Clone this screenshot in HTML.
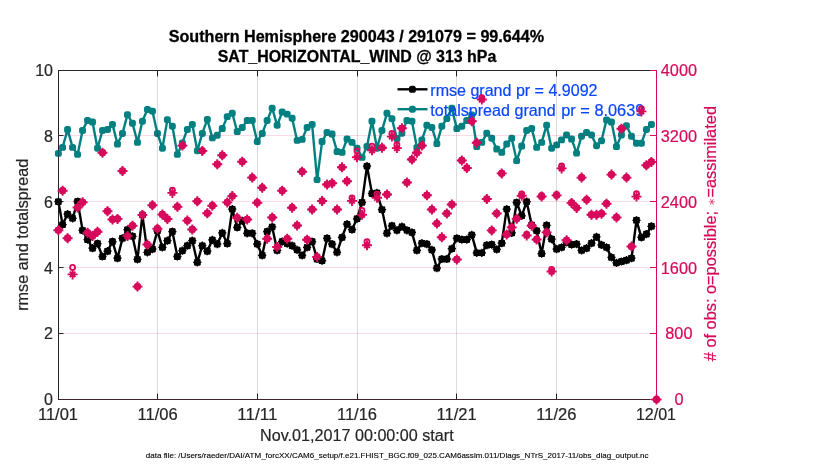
<!DOCTYPE html>
<html><head><meta charset="utf-8"><title>obs diag</title>
<style>
html,body{margin:0;padding:0;background:#fff;}
body{width:830px;height:470px;overflow:hidden;}
svg{display:block;}
text{font-family:"Liberation Sans",sans-serif;}
</style></head><body>
<svg width="830" height="470" viewBox="0 0 830 470">
<rect x="0" y="0" width="830" height="470" fill="#ffffff"/>
<g fill="#262626"><rect x="58" y="70" width="1" height="330"/><rect x="58" y="70" width="599" height="1"/><rect x="58" y="399" width="599" height="1"/><rect x="59" y="399" width="4.6" height="1"/><rect x="59" y="333" width="4.6" height="1"/><rect x="59" y="267" width="4.6" height="1"/><rect x="59" y="201" width="4.6" height="1"/><rect x="59" y="135" width="4.6" height="1"/><rect x="59" y="70" width="4.6" height="1"/><rect x="157" y="393.6" width="1" height="5.4"/><rect x="157" y="71" width="1" height="5.4"/><rect x="257" y="393.6" width="1" height="5.4"/><rect x="257" y="71" width="1" height="5.4"/><rect x="357" y="393.6" width="1" height="5.4"/><rect x="357" y="71" width="1" height="5.4"/><rect x="456" y="393.6" width="1" height="5.4"/><rect x="456" y="71" width="1" height="5.4"/><rect x="556" y="393.6" width="1" height="5.4"/><rect x="556" y="71" width="1" height="5.4"/></g>
<polyline points="58.4,201.7 62.6,224.6 67.6,214.1 72.6,218.3 77.6,201.5 82.6,230.4 87.6,239.6 92.5,248.2 97.5,243.6 102.5,256.5 107.5,251.2 112.5,241.6 117.5,258.2 122.5,238.3 127.5,229.6 132.5,236.3 137.5,259.4 142.4,215.0 147.4,252.4 152.4,249.1 157.4,230.8 162.4,247.4 167.4,240.7 172.4,231.6 177.4,256.5 182.4,250.7 187.3,245.7 192.3,240.7 197.3,262.4 202.3,245.7 207.3,251.2 212.3,239.9 217.3,244.1 222.3,232.9 227.3,243.6 232.3,209.1 237.2,227.4 242.2,220.8 247.2,233.3 252.2,233.3 257.2,244.1 262.2,255.4 267.2,231.6 272.2,226.9 277.2,250.4 282.2,241.6 287.2,243.6 292.1,245.7 297.1,249.9 302.1,255.4 307.1,247.4 312.1,241.6 317.1,259.0 322.1,260.7 327.1,238.3 332.1,244.1 337.1,252.4 342.0,237.4 347.0,224.1 352.0,229.6 357.0,218.8 362.0,202.4 367.0,166.1 372.0,193.6 377.0,192.9 382.0,209.6 387.0,233.3 391.9,225.8 396.9,230.3 401.9,226.6 406.9,230.3 411.9,232.4 416.9,250.4 421.9,243.2 426.9,244.1 431.9,249.9 436.9,268.2 441.8,259.0 446.8,259.0 451.8,248.7 456.8,238.3 461.8,239.6 466.8,239.6 471.8,234.9 476.8,252.9 481.8,252.9 486.8,245.2 491.7,244.6 496.7,249.4 501.7,243.2 506.7,209.1 511.7,232.9 516.7,202.5 521.7,215.8 526.7,201.7 531.7,224.9 536.6,230.8 541.6,253.6 546.6,225.3 551.6,239.1 556.6,249.1 561.6,247.4 566.6,242.4 571.6,244.6 576.6,244.1 581.6,250.4 586.6,248.2 591.5,243.2 596.5,236.9 601.5,244.9 606.5,247.4 611.5,257.4 616.5,262.9 621.5,261.5 626.5,260.2 631.5,258.2 636.5,220.3 641.4,237.4 646.4,234.1 651.4,226.3" fill="none" stroke="#000000" stroke-width="2.4" stroke-linejoin="round"/>
<g fill="#000000"><rect x="54.9" y="198.2" width="6.9" height="6.9" rx="2.6"/><rect x="59.1" y="221.2" width="6.9" height="6.9" rx="2.6"/><rect x="64.1" y="210.7" width="6.9" height="6.9" rx="2.6"/><rect x="69.1" y="214.8" width="6.9" height="6.9" rx="2.6"/><rect x="74.1" y="198.0" width="6.9" height="6.9" rx="2.6"/><rect x="79.1" y="227.0" width="6.9" height="6.9" rx="2.6"/><rect x="84.1" y="236.1" width="6.9" height="6.9" rx="2.6"/><rect x="89.1" y="244.8" width="6.9" height="6.9" rx="2.6"/><rect x="94.1" y="240.1" width="6.9" height="6.9" rx="2.6"/><rect x="99.1" y="253.1" width="6.9" height="6.9" rx="2.6"/><rect x="104.1" y="247.8" width="6.9" height="6.9" rx="2.6"/><rect x="109.0" y="238.1" width="6.9" height="6.9" rx="2.6"/><rect x="114.0" y="254.8" width="6.9" height="6.9" rx="2.6"/><rect x="119.0" y="234.8" width="6.9" height="6.9" rx="2.6"/><rect x="124.0" y="226.2" width="6.9" height="6.9" rx="2.6"/><rect x="129.0" y="232.8" width="6.9" height="6.9" rx="2.6"/><rect x="134.0" y="255.9" width="6.9" height="6.9" rx="2.6"/><rect x="139.0" y="211.5" width="6.9" height="6.9" rx="2.6"/><rect x="144.0" y="248.9" width="6.9" height="6.9" rx="2.6"/><rect x="149.0" y="245.6" width="6.9" height="6.9" rx="2.6"/><rect x="154.0" y="227.3" width="6.9" height="6.9" rx="2.6"/><rect x="159.0" y="243.9" width="6.9" height="6.9" rx="2.6"/><rect x="163.9" y="237.3" width="6.9" height="6.9" rx="2.6"/><rect x="168.9" y="228.1" width="6.9" height="6.9" rx="2.6"/><rect x="173.9" y="253.1" width="6.9" height="6.9" rx="2.6"/><rect x="178.9" y="247.3" width="6.9" height="6.9" rx="2.6"/><rect x="183.9" y="242.3" width="6.9" height="6.9" rx="2.6"/><rect x="188.9" y="237.3" width="6.9" height="6.9" rx="2.6"/><rect x="193.9" y="258.9" width="6.9" height="6.9" rx="2.6"/><rect x="198.9" y="242.3" width="6.9" height="6.9" rx="2.6"/><rect x="203.9" y="247.8" width="6.9" height="6.9" rx="2.6"/><rect x="208.9" y="236.5" width="6.9" height="6.9" rx="2.6"/><rect x="213.8" y="240.6" width="6.9" height="6.9" rx="2.6"/><rect x="218.8" y="229.5" width="6.9" height="6.9" rx="2.6"/><rect x="223.8" y="240.1" width="6.9" height="6.9" rx="2.6"/><rect x="228.8" y="205.7" width="6.9" height="6.9" rx="2.6"/><rect x="233.8" y="224.0" width="6.9" height="6.9" rx="2.6"/><rect x="238.8" y="217.3" width="6.9" height="6.9" rx="2.6"/><rect x="243.8" y="229.8" width="6.9" height="6.9" rx="2.6"/><rect x="248.8" y="229.8" width="6.9" height="6.9" rx="2.6"/><rect x="253.8" y="240.6" width="6.9" height="6.9" rx="2.6"/><rect x="258.8" y="251.9" width="6.9" height="6.9" rx="2.6"/><rect x="263.7" y="228.1" width="6.9" height="6.9" rx="2.6"/><rect x="268.7" y="223.5" width="6.9" height="6.9" rx="2.6"/><rect x="273.7" y="246.9" width="6.9" height="6.9" rx="2.6"/><rect x="278.7" y="238.1" width="6.9" height="6.9" rx="2.6"/><rect x="283.7" y="240.1" width="6.9" height="6.9" rx="2.6"/><rect x="288.7" y="242.3" width="6.9" height="6.9" rx="2.6"/><rect x="293.7" y="246.4" width="6.9" height="6.9" rx="2.6"/><rect x="298.7" y="251.9" width="6.9" height="6.9" rx="2.6"/><rect x="303.7" y="243.9" width="6.9" height="6.9" rx="2.6"/><rect x="308.7" y="238.1" width="6.9" height="6.9" rx="2.6"/><rect x="313.6" y="255.6" width="6.9" height="6.9" rx="2.6"/><rect x="318.6" y="257.3" width="6.9" height="6.9" rx="2.6"/><rect x="323.6" y="234.8" width="6.9" height="6.9" rx="2.6"/><rect x="328.6" y="240.6" width="6.9" height="6.9" rx="2.6"/><rect x="333.6" y="248.9" width="6.9" height="6.9" rx="2.6"/><rect x="338.6" y="234.0" width="6.9" height="6.9" rx="2.6"/><rect x="343.6" y="220.7" width="6.9" height="6.9" rx="2.6"/><rect x="348.6" y="226.2" width="6.9" height="6.9" rx="2.6"/><rect x="353.6" y="215.3" width="6.9" height="6.9" rx="2.6"/><rect x="358.6" y="198.9" width="6.9" height="6.9" rx="2.6"/><rect x="363.5" y="162.7" width="6.9" height="6.9" rx="2.6"/><rect x="368.5" y="190.1" width="6.9" height="6.9" rx="2.6"/><rect x="373.5" y="189.5" width="6.9" height="6.9" rx="2.6"/><rect x="378.5" y="206.2" width="6.9" height="6.9" rx="2.6"/><rect x="383.5" y="229.8" width="6.9" height="6.9" rx="2.6"/><rect x="388.5" y="222.3" width="6.9" height="6.9" rx="2.6"/><rect x="393.5" y="226.8" width="6.9" height="6.9" rx="2.6"/><rect x="398.5" y="223.2" width="6.9" height="6.9" rx="2.6"/><rect x="403.5" y="226.8" width="6.9" height="6.9" rx="2.6"/><rect x="408.5" y="229.0" width="6.9" height="6.9" rx="2.6"/><rect x="413.4" y="246.9" width="6.9" height="6.9" rx="2.6"/><rect x="418.4" y="239.8" width="6.9" height="6.9" rx="2.6"/><rect x="423.4" y="240.6" width="6.9" height="6.9" rx="2.6"/><rect x="428.4" y="246.4" width="6.9" height="6.9" rx="2.6"/><rect x="433.4" y="264.7" width="6.9" height="6.9" rx="2.6"/><rect x="438.4" y="255.6" width="6.9" height="6.9" rx="2.6"/><rect x="443.4" y="255.6" width="6.9" height="6.9" rx="2.6"/><rect x="448.4" y="245.3" width="6.9" height="6.9" rx="2.6"/><rect x="453.4" y="234.8" width="6.9" height="6.9" rx="2.6"/><rect x="458.4" y="236.1" width="6.9" height="6.9" rx="2.6"/><rect x="463.3" y="236.1" width="6.9" height="6.9" rx="2.6"/><rect x="468.3" y="231.5" width="6.9" height="6.9" rx="2.6"/><rect x="473.3" y="249.4" width="6.9" height="6.9" rx="2.6"/><rect x="478.3" y="249.4" width="6.9" height="6.9" rx="2.6"/><rect x="483.3" y="241.8" width="6.9" height="6.9" rx="2.6"/><rect x="488.3" y="241.1" width="6.9" height="6.9" rx="2.6"/><rect x="493.3" y="245.9" width="6.9" height="6.9" rx="2.6"/><rect x="498.3" y="239.8" width="6.9" height="6.9" rx="2.6"/><rect x="503.3" y="205.7" width="6.9" height="6.9" rx="2.6"/><rect x="508.3" y="229.5" width="6.9" height="6.9" rx="2.6"/><rect x="513.2" y="199.0" width="6.9" height="6.9" rx="2.6"/><rect x="518.2" y="212.3" width="6.9" height="6.9" rx="2.6"/><rect x="523.2" y="198.2" width="6.9" height="6.9" rx="2.6"/><rect x="528.2" y="221.5" width="6.9" height="6.9" rx="2.6"/><rect x="533.2" y="227.3" width="6.9" height="6.9" rx="2.6"/><rect x="538.2" y="250.1" width="6.9" height="6.9" rx="2.6"/><rect x="543.2" y="221.8" width="6.9" height="6.9" rx="2.6"/><rect x="548.2" y="235.6" width="6.9" height="6.9" rx="2.6"/><rect x="553.2" y="245.6" width="6.9" height="6.9" rx="2.6"/><rect x="558.1" y="243.9" width="6.9" height="6.9" rx="2.6"/><rect x="563.1" y="239.0" width="6.9" height="6.9" rx="2.6"/><rect x="568.1" y="241.1" width="6.9" height="6.9" rx="2.6"/><rect x="573.1" y="240.6" width="6.9" height="6.9" rx="2.6"/><rect x="578.1" y="246.9" width="6.9" height="6.9" rx="2.6"/><rect x="583.1" y="244.8" width="6.9" height="6.9" rx="2.6"/><rect x="588.1" y="239.8" width="6.9" height="6.9" rx="2.6"/><rect x="593.1" y="233.5" width="6.9" height="6.9" rx="2.6"/><rect x="598.1" y="241.5" width="6.9" height="6.9" rx="2.6"/><rect x="603.1" y="243.9" width="6.9" height="6.9" rx="2.6"/><rect x="608.0" y="253.9" width="6.9" height="6.9" rx="2.6"/><rect x="613.0" y="259.4" width="6.9" height="6.9" rx="2.6"/><rect x="618.0" y="258.1" width="6.9" height="6.9" rx="2.6"/><rect x="623.0" y="256.8" width="6.9" height="6.9" rx="2.6"/><rect x="628.0" y="254.8" width="6.9" height="6.9" rx="2.6"/><rect x="633.0" y="216.8" width="6.9" height="6.9" rx="2.6"/><rect x="638.0" y="234.0" width="6.9" height="6.9" rx="2.6"/><rect x="643.0" y="230.6" width="6.9" height="6.9" rx="2.6"/><rect x="648.0" y="222.8" width="6.9" height="6.9" rx="2.6"/></g>
<path d="M54.3,201.7h8.2M58.4,197.6v8.2M55.4,198.7l5.9,5.9M55.4,204.6l5.9,-5.9M58.5,224.6h8.2M62.6,220.5v8.2M59.6,221.7l5.9,5.9M59.6,227.6l5.9,-5.9M63.5,214.1h8.2M67.6,210.0v8.2M64.6,211.2l5.9,5.9M64.6,217.1l5.9,-5.9M68.5,218.3h8.2M72.6,214.2v8.2M69.6,215.3l5.9,5.9M69.6,221.2l5.9,-5.9M73.5,201.5h8.2M77.6,197.4v8.2M74.6,198.5l5.9,5.9M74.6,204.4l5.9,-5.9M78.5,230.4h8.2M82.6,226.3v8.2M79.6,227.5l5.9,5.9M79.6,233.4l5.9,-5.9M83.5,239.6h8.2M87.6,235.5v8.2M84.6,236.6l5.9,5.9M84.6,242.5l5.9,-5.9M88.4,248.2h8.2M92.5,244.1v8.2M89.6,245.3l5.9,5.9M89.6,251.2l5.9,-5.9M93.4,243.6h8.2M97.5,239.5v8.2M94.6,240.6l5.9,5.9M94.6,246.5l5.9,-5.9M98.4,256.5h8.2M102.5,252.4v8.2M99.6,253.6l5.9,5.9M99.6,259.5l5.9,-5.9M103.4,251.2h8.2M107.5,247.1v8.2M104.6,248.3l5.9,5.9M104.6,254.2l5.9,-5.9M108.4,241.6h8.2M112.5,237.5v8.2M109.5,238.6l5.9,5.9M109.5,244.5l5.9,-5.9M113.4,258.2h8.2M117.5,254.1v8.2M114.5,255.3l5.9,5.9M114.5,261.2l5.9,-5.9M118.4,238.3h8.2M122.5,234.2v8.2M119.5,235.3l5.9,5.9M119.5,241.2l5.9,-5.9M123.4,229.6h8.2M127.5,225.5v8.2M124.5,226.7l5.9,5.9M124.5,232.6l5.9,-5.9M128.4,236.3h8.2M132.5,232.2v8.2M129.5,233.3l5.9,5.9M129.5,239.2l5.9,-5.9M133.4,259.4h8.2M137.5,255.3v8.2M134.5,256.4l5.9,5.9M134.5,262.3l5.9,-5.9M138.3,215.0h8.2M142.4,210.9v8.2M139.5,212.0l5.9,5.9M139.5,217.9l5.9,-5.9M143.3,252.4h8.2M147.4,248.3v8.2M144.5,249.4l5.9,5.9M144.5,255.3l5.9,-5.9M148.3,249.1h8.2M152.4,245.0v8.2M149.5,246.1l5.9,5.9M149.5,252.0l5.9,-5.9M153.3,230.8h8.2M157.4,226.7v8.2M154.5,227.8l5.9,5.9M154.5,233.7l5.9,-5.9M158.3,247.4h8.2M162.4,243.3v8.2M159.5,244.4l5.9,5.9M159.5,250.3l5.9,-5.9M163.3,240.7h8.2M167.4,236.6v8.2M164.4,237.8l5.9,5.9M164.4,243.7l5.9,-5.9M168.3,231.6h8.2M172.4,227.5v8.2M169.4,228.6l5.9,5.9M169.4,234.5l5.9,-5.9M173.3,256.5h8.2M177.4,252.4v8.2M174.4,253.6l5.9,5.9M174.4,259.5l5.9,-5.9M178.3,250.7h8.2M182.4,246.6v8.2M179.4,247.8l5.9,5.9M179.4,253.7l5.9,-5.9M183.2,245.7h8.2M187.3,241.6v8.2M184.4,242.8l5.9,5.9M184.4,248.7l5.9,-5.9M188.2,240.7h8.2M192.3,236.6v8.2M189.4,237.8l5.9,5.9M189.4,243.7l5.9,-5.9M193.2,262.4h8.2M197.3,258.3v8.2M194.4,259.4l5.9,5.9M194.4,265.3l5.9,-5.9M198.2,245.7h8.2M202.3,241.6v8.2M199.4,242.8l5.9,5.9M199.4,248.7l5.9,-5.9M203.2,251.2h8.2M207.3,247.1v8.2M204.4,248.3l5.9,5.9M204.4,254.2l5.9,-5.9M208.2,239.9h8.2M212.3,235.8v8.2M209.4,237.0l5.9,5.9M209.4,242.9l5.9,-5.9M213.2,244.1h8.2M217.3,240.0v8.2M214.3,241.1l5.9,5.9M214.3,247.0l5.9,-5.9M218.2,232.9h8.2M222.3,228.8v8.2M219.3,230.0l5.9,5.9M219.3,235.9l5.9,-5.9M223.2,243.6h8.2M227.3,239.5v8.2M224.3,240.6l5.9,5.9M224.3,246.5l5.9,-5.9M228.2,209.1h8.2M232.3,205.0v8.2M229.3,206.2l5.9,5.9M229.3,212.1l5.9,-5.9M233.2,227.4h8.2M237.2,223.3v8.2M234.3,224.5l5.9,5.9M234.3,230.4l5.9,-5.9M238.1,220.8h8.2M242.2,216.7v8.2M239.3,217.8l5.9,5.9M239.3,223.7l5.9,-5.9M243.1,233.3h8.2M247.2,229.2v8.2M244.3,230.3l5.9,5.9M244.3,236.2l5.9,-5.9M248.1,233.3h8.2M252.2,229.2v8.2M249.3,230.3l5.9,5.9M249.3,236.2l5.9,-5.9M253.1,244.1h8.2M257.2,240.0v8.2M254.3,241.1l5.9,5.9M254.3,247.0l5.9,-5.9M258.1,255.4h8.2M262.2,251.3v8.2M259.3,252.4l5.9,5.9M259.3,258.3l5.9,-5.9M263.1,231.6h8.2M267.2,227.5v8.2M264.2,228.6l5.9,5.9M264.2,234.5l5.9,-5.9M268.1,226.9h8.2M272.2,222.8v8.2M269.2,224.0l5.9,5.9M269.2,229.9l5.9,-5.9M273.1,250.4h8.2M277.2,246.3v8.2M274.2,247.4l5.9,5.9M274.2,253.3l5.9,-5.9M278.1,241.6h8.2M282.2,237.5v8.2M279.2,238.6l5.9,5.9M279.2,244.5l5.9,-5.9M283.1,243.6h8.2M287.2,239.5v8.2M284.2,240.6l5.9,5.9M284.2,246.5l5.9,-5.9M288.0,245.7h8.2M292.1,241.6v8.2M289.2,242.8l5.9,5.9M289.2,248.7l5.9,-5.9M293.0,249.9h8.2M297.1,245.8v8.2M294.2,246.9l5.9,5.9M294.2,252.8l5.9,-5.9M298.0,255.4h8.2M302.1,251.3v8.2M299.2,252.4l5.9,5.9M299.2,258.3l5.9,-5.9M303.0,247.4h8.2M307.1,243.3v8.2M304.2,244.4l5.9,5.9M304.2,250.3l5.9,-5.9M308.0,241.6h8.2M312.1,237.5v8.2M309.2,238.6l5.9,5.9M309.2,244.5l5.9,-5.9M313.0,259.0h8.2M317.1,254.9v8.2M314.1,256.1l5.9,5.9M314.1,262.0l5.9,-5.9M318.0,260.7h8.2M322.1,256.6v8.2M319.1,257.8l5.9,5.9M319.1,263.7l5.9,-5.9M323.0,238.3h8.2M327.1,234.2v8.2M324.1,235.3l5.9,5.9M324.1,241.2l5.9,-5.9M328.0,244.1h8.2M332.1,240.0v8.2M329.1,241.1l5.9,5.9M329.1,247.0l5.9,-5.9M332.9,252.4h8.2M337.1,248.3v8.2M334.1,249.4l5.9,5.9M334.1,255.3l5.9,-5.9M337.9,237.4h8.2M342.0,233.3v8.2M339.1,234.5l5.9,5.9M339.1,240.4l5.9,-5.9M342.9,224.1h8.2M347.0,220.0v8.2M344.1,221.2l5.9,5.9M344.1,227.1l5.9,-5.9M347.9,229.6h8.2M352.0,225.5v8.2M349.1,226.7l5.9,5.9M349.1,232.6l5.9,-5.9M352.9,218.8h8.2M357.0,214.7v8.2M354.1,215.8l5.9,5.9M354.1,221.7l5.9,-5.9M357.9,202.4h8.2M362.0,198.3v8.2M359.1,199.4l5.9,5.9M359.1,205.3l5.9,-5.9M362.9,166.1h8.2M367.0,162.0v8.2M364.0,163.2l5.9,5.9M364.0,169.1l5.9,-5.9M367.9,193.6h8.2M372.0,189.5v8.2M369.0,190.6l5.9,5.9M369.0,196.5l5.9,-5.9M372.9,192.9h8.2M377.0,188.8v8.2M374.0,190.0l5.9,5.9M374.0,195.9l5.9,-5.9M377.9,209.6h8.2M382.0,205.5v8.2M379.0,206.7l5.9,5.9M379.0,212.6l5.9,-5.9M382.9,233.3h8.2M387.0,229.2v8.2M384.0,230.3l5.9,5.9M384.0,236.2l5.9,-5.9M387.8,225.8h8.2M391.9,221.7v8.2M389.0,222.8l5.9,5.9M389.0,228.7l5.9,-5.9M392.8,230.3h8.2M396.9,226.2v8.2M394.0,227.3l5.9,5.9M394.0,233.2l5.9,-5.9M397.8,226.6h8.2M401.9,222.5v8.2M399.0,223.7l5.9,5.9M399.0,229.6l5.9,-5.9M402.8,230.3h8.2M406.9,226.2v8.2M404.0,227.3l5.9,5.9M404.0,233.2l5.9,-5.9M407.8,232.4h8.2M411.9,228.3v8.2M409.0,229.5l5.9,5.9M409.0,235.4l5.9,-5.9M412.8,250.4h8.2M416.9,246.3v8.2M413.9,247.4l5.9,5.9M413.9,253.3l5.9,-5.9M417.8,243.2h8.2M421.9,239.1v8.2M418.9,240.3l5.9,5.9M418.9,246.2l5.9,-5.9M422.8,244.1h8.2M426.9,240.0v8.2M423.9,241.1l5.9,5.9M423.9,247.0l5.9,-5.9M427.8,249.9h8.2M431.9,245.8v8.2M428.9,246.9l5.9,5.9M428.9,252.8l5.9,-5.9M432.8,268.2h8.2M436.9,264.1v8.2M433.9,265.2l5.9,5.9M433.9,271.1l5.9,-5.9M437.7,259.0h8.2M441.8,254.9v8.2M438.9,256.1l5.9,5.9M438.9,262.0l5.9,-5.9M442.7,259.0h8.2M446.8,254.9v8.2M443.9,256.1l5.9,5.9M443.9,262.0l5.9,-5.9M447.7,248.7h8.2M451.8,244.6v8.2M448.9,245.8l5.9,5.9M448.9,251.7l5.9,-5.9M452.7,238.3h8.2M456.8,234.2v8.2M453.9,235.3l5.9,5.9M453.9,241.2l5.9,-5.9M457.7,239.6h8.2M461.8,235.5v8.2M458.9,236.6l5.9,5.9M458.9,242.5l5.9,-5.9M462.7,239.6h8.2M466.8,235.5v8.2M463.8,236.6l5.9,5.9M463.8,242.5l5.9,-5.9M467.7,234.9h8.2M471.8,230.8v8.2M468.8,232.0l5.9,5.9M468.8,237.9l5.9,-5.9M472.7,252.9h8.2M476.8,248.8v8.2M473.8,249.9l5.9,5.9M473.8,255.8l5.9,-5.9M477.7,252.9h8.2M481.8,248.8v8.2M478.8,249.9l5.9,5.9M478.8,255.8l5.9,-5.9M482.7,245.2h8.2M486.8,241.1v8.2M483.8,242.3l5.9,5.9M483.8,248.2l5.9,-5.9M487.6,244.6h8.2M491.7,240.5v8.2M488.8,241.6l5.9,5.9M488.8,247.5l5.9,-5.9M492.6,249.4h8.2M496.7,245.3v8.2M493.8,246.4l5.9,5.9M493.8,252.3l5.9,-5.9M497.6,243.2h8.2M501.7,239.1v8.2M498.8,240.3l5.9,5.9M498.8,246.2l5.9,-5.9M502.6,209.1h8.2M506.7,205.0v8.2M503.8,206.2l5.9,5.9M503.8,212.1l5.9,-5.9M507.6,232.9h8.2M511.7,228.8v8.2M508.8,230.0l5.9,5.9M508.8,235.9l5.9,-5.9M512.6,202.5h8.2M516.7,198.4v8.2M513.7,199.5l5.9,5.9M513.7,205.4l5.9,-5.9M517.6,215.8h8.2M521.7,211.7v8.2M518.7,212.8l5.9,5.9M518.7,218.7l5.9,-5.9M522.6,201.7h8.2M526.7,197.6v8.2M523.7,198.7l5.9,5.9M523.7,204.6l5.9,-5.9M527.6,224.9h8.2M531.7,220.8v8.2M528.7,222.0l5.9,5.9M528.7,227.9l5.9,-5.9M532.5,230.8h8.2M536.6,226.7v8.2M533.7,227.8l5.9,5.9M533.7,233.7l5.9,-5.9M537.5,253.6h8.2M541.6,249.5v8.2M538.7,250.6l5.9,5.9M538.7,256.5l5.9,-5.9M542.5,225.3h8.2M546.6,221.2v8.2M543.7,222.3l5.9,5.9M543.7,228.2l5.9,-5.9M547.5,239.1h8.2M551.6,235.0v8.2M548.7,236.1l5.9,5.9M548.7,242.0l5.9,-5.9M552.5,249.1h8.2M556.6,245.0v8.2M553.7,246.1l5.9,5.9M553.7,252.0l5.9,-5.9M557.5,247.4h8.2M561.6,243.3v8.2M558.6,244.4l5.9,5.9M558.6,250.3l5.9,-5.9M562.5,242.4h8.2M566.6,238.3v8.2M563.6,239.5l5.9,5.9M563.6,245.4l5.9,-5.9M567.5,244.6h8.2M571.6,240.5v8.2M568.6,241.6l5.9,5.9M568.6,247.5l5.9,-5.9M572.5,244.1h8.2M576.6,240.0v8.2M573.6,241.1l5.9,5.9M573.6,247.0l5.9,-5.9M577.5,250.4h8.2M581.6,246.3v8.2M578.6,247.4l5.9,5.9M578.6,253.3l5.9,-5.9M582.5,248.2h8.2M586.6,244.1v8.2M583.6,245.3l5.9,5.9M583.6,251.2l5.9,-5.9M587.4,243.2h8.2M591.5,239.1v8.2M588.6,240.3l5.9,5.9M588.6,246.2l5.9,-5.9M592.4,236.9h8.2M596.5,232.8v8.2M593.6,234.0l5.9,5.9M593.6,239.9l5.9,-5.9M597.4,244.9h8.2M601.5,240.8v8.2M598.6,242.0l5.9,5.9M598.6,247.9l5.9,-5.9M602.4,247.4h8.2M606.5,243.3v8.2M603.6,244.4l5.9,5.9M603.6,250.3l5.9,-5.9M607.4,257.4h8.2M611.5,253.3v8.2M608.5,254.4l5.9,5.9M608.5,260.3l5.9,-5.9M612.4,262.9h8.2M616.5,258.8v8.2M613.5,259.9l5.9,5.9M613.5,265.8l5.9,-5.9M617.4,261.5h8.2M621.5,257.4v8.2M618.5,258.6l5.9,5.9M618.5,264.5l5.9,-5.9M622.4,260.2h8.2M626.5,256.1v8.2M623.5,257.3l5.9,5.9M623.5,263.2l5.9,-5.9M627.4,258.2h8.2M631.5,254.1v8.2M628.5,255.3l5.9,5.9M628.5,261.2l5.9,-5.9M632.4,220.3h8.2M636.5,216.2v8.2M633.5,217.3l5.9,5.9M633.5,223.2l5.9,-5.9M637.3,237.4h8.2M641.4,233.3v8.2M638.5,234.5l5.9,5.9M638.5,240.4l5.9,-5.9M642.3,234.1h8.2M646.4,230.0v8.2M643.5,231.1l5.9,5.9M643.5,237.0l5.9,-5.9M647.3,226.3h8.2M651.4,222.2v8.2M648.5,223.3l5.9,5.9M648.5,229.2l5.9,-5.9" stroke="#000" stroke-width="1.3" fill="none"/>
<polyline points="58.4,153.4 62.6,147.4 67.6,129.6 72.6,147.4 77.6,154.4 82.6,130.4 87.6,120.4 92.5,122.1 97.5,148.2 102.5,130.4 107.5,129.4 112.5,124.4 117.5,144.1 122.5,133.4 127.5,114.6 132.5,123.3 137.5,142.4 142.4,121.3 147.4,109.5 152.4,111.1 157.4,133.4 162.4,148.2 167.4,119.6 172.4,126.3 177.4,154.4 182.4,142.9 187.3,129.4 192.3,124.4 197.3,150.7 202.3,133.4 207.3,119.4 212.3,137.9 217.3,135.2 222.3,128.6 227.3,116.6 232.3,113.3 237.2,131.6 242.2,127.4 247.2,120.4 252.2,120.4 257.2,141.6 262.2,133.4 267.2,120.4 272.2,108.3 277.2,125.3 282.2,112.0 287.2,114.1 292.1,118.3 297.1,140.4 302.1,139.4 307.1,127.4 312.1,124.4 317.1,179.6 322.1,141.6 327.1,132.4 332.1,134.1 337.1,151.5 342.0,152.4 347.0,139.1 352.0,142.4 357.0,148.2 362.0,157.4 367.0,146.5 372.0,121.1 377.0,148.2 382.0,130.4 387.0,113.3 391.9,118.6 396.9,138.6 401.9,133.2 406.9,120.4 411.9,121.1 416.9,147.4 421.9,139.9 426.9,125.3 431.9,127.4 436.9,143.6 441.8,126.3 446.8,118.6 451.8,108.3 456.8,128.6 461.8,126.3 466.8,120.4 471.8,114.9 476.8,146.5 481.8,142.4 486.8,133.2 491.7,138.2 496.7,149.0 501.7,152.4 506.7,144.1 511.7,138.2 516.7,160.7 521.7,146.0 526.7,130.4 531.7,128.6 536.6,147.4 541.6,142.4 546.6,125.3 551.6,148.2 556.6,144.9 561.6,139.9 566.6,134.9 571.6,139.1 576.6,153.2 581.6,136.2 586.6,132.4 591.5,134.9 596.5,145.7 601.5,140.7 606.5,119.9 611.5,122.1 616.5,146.5 621.5,134.9 626.5,125.8 631.5,136.2 636.5,143.2 641.4,143.2 646.4,129.4 651.4,124.4" fill="none" stroke="#008080" stroke-width="2.4" stroke-linejoin="round"/>
<g fill="#008080"><rect x="54.9" y="149.9" width="6.9" height="6.9" rx="2.6"/><rect x="59.1" y="143.9" width="6.9" height="6.9" rx="2.6"/><rect x="64.1" y="126.1" width="6.9" height="6.9" rx="2.6"/><rect x="69.1" y="143.9" width="6.9" height="6.9" rx="2.6"/><rect x="74.1" y="150.9" width="6.9" height="6.9" rx="2.6"/><rect x="79.1" y="127.0" width="6.9" height="6.9" rx="2.6"/><rect x="84.1" y="117.0" width="6.9" height="6.9" rx="2.6"/><rect x="89.1" y="118.6" width="6.9" height="6.9" rx="2.6"/><rect x="94.1" y="144.8" width="6.9" height="6.9" rx="2.6"/><rect x="99.1" y="127.0" width="6.9" height="6.9" rx="2.6"/><rect x="104.1" y="126.0" width="6.9" height="6.9" rx="2.6"/><rect x="109.0" y="121.0" width="6.9" height="6.9" rx="2.6"/><rect x="114.0" y="140.6" width="6.9" height="6.9" rx="2.6"/><rect x="119.0" y="130.0" width="6.9" height="6.9" rx="2.6"/><rect x="124.0" y="111.2" width="6.9" height="6.9" rx="2.6"/><rect x="129.0" y="119.8" width="6.9" height="6.9" rx="2.6"/><rect x="134.0" y="138.9" width="6.9" height="6.9" rx="2.6"/><rect x="139.0" y="117.8" width="6.9" height="6.9" rx="2.6"/><rect x="144.0" y="106.0" width="6.9" height="6.9" rx="2.6"/><rect x="149.0" y="107.7" width="6.9" height="6.9" rx="2.6"/><rect x="154.0" y="130.0" width="6.9" height="6.9" rx="2.6"/><rect x="159.0" y="144.8" width="6.9" height="6.9" rx="2.6"/><rect x="163.9" y="116.2" width="6.9" height="6.9" rx="2.6"/><rect x="168.9" y="122.8" width="6.9" height="6.9" rx="2.6"/><rect x="173.9" y="150.9" width="6.9" height="6.9" rx="2.6"/><rect x="178.9" y="139.4" width="6.9" height="6.9" rx="2.6"/><rect x="183.9" y="126.0" width="6.9" height="6.9" rx="2.6"/><rect x="188.9" y="121.0" width="6.9" height="6.9" rx="2.6"/><rect x="193.9" y="147.3" width="6.9" height="6.9" rx="2.6"/><rect x="198.9" y="130.0" width="6.9" height="6.9" rx="2.6"/><rect x="203.9" y="116.0" width="6.9" height="6.9" rx="2.6"/><rect x="208.9" y="134.4" width="6.9" height="6.9" rx="2.6"/><rect x="213.8" y="131.8" width="6.9" height="6.9" rx="2.6"/><rect x="218.8" y="125.1" width="6.9" height="6.9" rx="2.6"/><rect x="223.8" y="113.2" width="6.9" height="6.9" rx="2.6"/><rect x="228.8" y="109.8" width="6.9" height="6.9" rx="2.6"/><rect x="233.8" y="128.1" width="6.9" height="6.9" rx="2.6"/><rect x="238.8" y="124.0" width="6.9" height="6.9" rx="2.6"/><rect x="243.8" y="117.0" width="6.9" height="6.9" rx="2.6"/><rect x="248.8" y="117.0" width="6.9" height="6.9" rx="2.6"/><rect x="253.8" y="138.1" width="6.9" height="6.9" rx="2.6"/><rect x="258.8" y="130.0" width="6.9" height="6.9" rx="2.6"/><rect x="263.7" y="117.0" width="6.9" height="6.9" rx="2.6"/><rect x="268.7" y="104.8" width="6.9" height="6.9" rx="2.6"/><rect x="273.7" y="121.8" width="6.9" height="6.9" rx="2.6"/><rect x="278.7" y="108.5" width="6.9" height="6.9" rx="2.6"/><rect x="283.7" y="110.7" width="6.9" height="6.9" rx="2.6"/><rect x="288.7" y="114.8" width="6.9" height="6.9" rx="2.6"/><rect x="293.7" y="136.9" width="6.9" height="6.9" rx="2.6"/><rect x="298.7" y="135.9" width="6.9" height="6.9" rx="2.6"/><rect x="303.7" y="124.0" width="6.9" height="6.9" rx="2.6"/><rect x="308.7" y="121.0" width="6.9" height="6.9" rx="2.6"/><rect x="313.6" y="176.2" width="6.9" height="6.9" rx="2.6"/><rect x="318.6" y="138.1" width="6.9" height="6.9" rx="2.6"/><rect x="323.6" y="129.0" width="6.9" height="6.9" rx="2.6"/><rect x="328.6" y="130.6" width="6.9" height="6.9" rx="2.6"/><rect x="333.6" y="148.1" width="6.9" height="6.9" rx="2.6"/><rect x="338.6" y="148.9" width="6.9" height="6.9" rx="2.6"/><rect x="343.6" y="135.6" width="6.9" height="6.9" rx="2.6"/><rect x="348.6" y="138.9" width="6.9" height="6.9" rx="2.6"/><rect x="353.6" y="144.8" width="6.9" height="6.9" rx="2.6"/><rect x="358.6" y="153.9" width="6.9" height="6.9" rx="2.6"/><rect x="363.5" y="143.1" width="6.9" height="6.9" rx="2.6"/><rect x="368.5" y="117.7" width="6.9" height="6.9" rx="2.6"/><rect x="373.5" y="144.8" width="6.9" height="6.9" rx="2.6"/><rect x="378.5" y="127.0" width="6.9" height="6.9" rx="2.6"/><rect x="383.5" y="109.8" width="6.9" height="6.9" rx="2.6"/><rect x="388.5" y="115.2" width="6.9" height="6.9" rx="2.6"/><rect x="393.5" y="135.1" width="6.9" height="6.9" rx="2.6"/><rect x="398.5" y="129.8" width="6.9" height="6.9" rx="2.6"/><rect x="403.5" y="117.0" width="6.9" height="6.9" rx="2.6"/><rect x="408.5" y="117.7" width="6.9" height="6.9" rx="2.6"/><rect x="413.4" y="143.9" width="6.9" height="6.9" rx="2.6"/><rect x="418.4" y="136.4" width="6.9" height="6.9" rx="2.6"/><rect x="423.4" y="121.8" width="6.9" height="6.9" rx="2.6"/><rect x="428.4" y="124.0" width="6.9" height="6.9" rx="2.6"/><rect x="433.4" y="140.1" width="6.9" height="6.9" rx="2.6"/><rect x="438.4" y="122.8" width="6.9" height="6.9" rx="2.6"/><rect x="443.4" y="115.2" width="6.9" height="6.9" rx="2.6"/><rect x="448.4" y="104.8" width="6.9" height="6.9" rx="2.6"/><rect x="453.4" y="125.1" width="6.9" height="6.9" rx="2.6"/><rect x="458.4" y="122.8" width="6.9" height="6.9" rx="2.6"/><rect x="463.3" y="117.0" width="6.9" height="6.9" rx="2.6"/><rect x="468.3" y="111.5" width="6.9" height="6.9" rx="2.6"/><rect x="473.3" y="143.1" width="6.9" height="6.9" rx="2.6"/><rect x="478.3" y="138.9" width="6.9" height="6.9" rx="2.6"/><rect x="483.3" y="129.8" width="6.9" height="6.9" rx="2.6"/><rect x="488.3" y="134.8" width="6.9" height="6.9" rx="2.6"/><rect x="493.3" y="145.6" width="6.9" height="6.9" rx="2.6"/><rect x="498.3" y="148.9" width="6.9" height="6.9" rx="2.6"/><rect x="503.3" y="140.6" width="6.9" height="6.9" rx="2.6"/><rect x="508.3" y="134.8" width="6.9" height="6.9" rx="2.6"/><rect x="513.2" y="157.2" width="6.9" height="6.9" rx="2.6"/><rect x="518.2" y="142.6" width="6.9" height="6.9" rx="2.6"/><rect x="523.2" y="127.0" width="6.9" height="6.9" rx="2.6"/><rect x="528.2" y="125.1" width="6.9" height="6.9" rx="2.6"/><rect x="533.2" y="143.9" width="6.9" height="6.9" rx="2.6"/><rect x="538.2" y="138.9" width="6.9" height="6.9" rx="2.6"/><rect x="543.2" y="121.8" width="6.9" height="6.9" rx="2.6"/><rect x="548.2" y="144.8" width="6.9" height="6.9" rx="2.6"/><rect x="553.2" y="141.4" width="6.9" height="6.9" rx="2.6"/><rect x="558.1" y="136.4" width="6.9" height="6.9" rx="2.6"/><rect x="563.1" y="131.5" width="6.9" height="6.9" rx="2.6"/><rect x="568.1" y="135.6" width="6.9" height="6.9" rx="2.6"/><rect x="573.1" y="149.7" width="6.9" height="6.9" rx="2.6"/><rect x="578.1" y="132.8" width="6.9" height="6.9" rx="2.6"/><rect x="583.1" y="129.0" width="6.9" height="6.9" rx="2.6"/><rect x="588.1" y="131.5" width="6.9" height="6.9" rx="2.6"/><rect x="593.1" y="142.3" width="6.9" height="6.9" rx="2.6"/><rect x="598.1" y="137.3" width="6.9" height="6.9" rx="2.6"/><rect x="603.1" y="116.5" width="6.9" height="6.9" rx="2.6"/><rect x="608.0" y="118.6" width="6.9" height="6.9" rx="2.6"/><rect x="613.0" y="143.1" width="6.9" height="6.9" rx="2.6"/><rect x="618.0" y="131.5" width="6.9" height="6.9" rx="2.6"/><rect x="623.0" y="122.3" width="6.9" height="6.9" rx="2.6"/><rect x="628.0" y="132.8" width="6.9" height="6.9" rx="2.6"/><rect x="633.0" y="139.8" width="6.9" height="6.9" rx="2.6"/><rect x="638.0" y="139.8" width="6.9" height="6.9" rx="2.6"/><rect x="643.0" y="126.0" width="6.9" height="6.9" rx="2.6"/><rect x="648.0" y="121.0" width="6.9" height="6.9" rx="2.6"/></g>
<g>
<line x1="397.5" y1="89.3" x2="427.5" y2="89.3" stroke="#000" stroke-width="2.4"/>
<rect x="408.95" y="85.85" width="6.9" height="6.9" rx="2.6" fill="#000"/>
<line x1="397.5" y1="109.2" x2="427.5" y2="109.2" stroke="#008080" stroke-width="2.4"/>
<rect x="408.95" y="105.75" width="6.9" height="6.9" rx="2.6" fill="#008080"/>
<text x="430.3" y="95.7" font-size="16" fill="#0a46ff" stroke="#0a46ff" stroke-width="0.2" textLength="167.2" lengthAdjust="spacingAndGlyphs">rmse grand pr = 4.9092</text>
<text y="115.6" font-size="16" fill="#0a46ff" stroke="#0a46ff" stroke-width="0.2"><tspan x="430.3" textLength="125.3" lengthAdjust="spacingAndGlyphs">totalspread grand</tspan> <tspan x="561.3" textLength="83" lengthAdjust="spacingAndGlyphs">pr = 8.0639</tspan></text>
</g>
<g fill="#262626" fill-opacity="0.45"><rect x="58" y="70" width="1" height="330"/><rect x="58" y="70" width="599" height="1"/><rect x="58" y="399" width="599" height="1"/></g>
<g fill="#000" fill-opacity="0.14"><rect x="157" y="71" width="1" height="328"/><rect x="257" y="71" width="1" height="328"/><rect x="357" y="71" width="1" height="328"/><rect x="456" y="71" width="1" height="328"/><rect x="556" y="71" width="1" height="328"/></g>
<g fill="#d7095a" fill-opacity="0.15"><rect x="59" y="333" width="597" height="1"/><rect x="59" y="267" width="597" height="1"/><rect x="59" y="201" width="597" height="1"/><rect x="59" y="135" width="597" height="1"/></g>
<g fill="#d7095a"><rect x="656" y="70" width="1" height="330"/><rect x="650" y="399" width="6" height="1"/><rect x="650" y="333" width="6" height="1"/><rect x="650" y="267" width="6" height="1"/><rect x="650" y="201" width="6" height="1"/><rect x="650" y="135" width="6" height="1"/><rect x="650" y="70" width="6" height="1"/></g>
<rect x="59" y="399" width="597" height="1" fill="#d7095a" fill-opacity="0.17"/>
<g stroke="#d7095a" stroke-width="1.8" fill="none"><circle cx="58.4" cy="229.9" r="2.5"/><circle cx="62.6" cy="190.4" r="2.5"/><circle cx="67.6" cy="237.9" r="2.5"/><circle cx="72.6" cy="267.4" r="2.5"/><circle cx="77.6" cy="207.2" r="2.5"/><circle cx="82.6" cy="202.1" r="2.5"/><circle cx="87.6" cy="232.6" r="2.5"/><circle cx="92.5" cy="235.8" r="2.5"/><circle cx="97.5" cy="231.6" r="2.5"/><circle cx="102.5" cy="152.4" r="2.5"/><circle cx="107.5" cy="210.9" r="2.5"/><circle cx="112.5" cy="219.2" r="2.5"/><circle cx="117.5" cy="218.7" r="2.5"/><circle cx="122.5" cy="170.8" r="2.5"/><circle cx="127.5" cy="235.8" r="2.5"/><circle cx="132.5" cy="225.4" r="2.5"/><circle cx="137.5" cy="286.4" r="2.5"/><circle cx="142.4" cy="214.7" r="2.5"/><circle cx="147.4" cy="244.5" r="2.5"/><circle cx="152.4" cy="204.9" r="2.5"/><circle cx="157.4" cy="228.4" r="2.5"/><circle cx="162.4" cy="214.2" r="2.5"/><circle cx="167.4" cy="218.8" r="2.5"/><circle cx="172.4" cy="190.1" r="2.5"/><circle cx="177.4" cy="206.6" r="2.5"/><circle cx="182.4" cy="145.3" r="2.5"/><circle cx="187.3" cy="220.3" r="2.5"/><circle cx="192.3" cy="229.2" r="2.5"/><circle cx="197.3" cy="201.1" r="2.5"/><circle cx="202.3" cy="150.7" r="2.5"/><circle cx="207.3" cy="213.1" r="2.5"/><circle cx="212.3" cy="205.4" r="2.5"/><circle cx="217.3" cy="164.1" r="2.5"/><circle cx="222.3" cy="155.1" r="2.5"/><circle cx="227.3" cy="202.2" r="2.5"/><circle cx="232.3" cy="195.8" r="2.5"/><circle cx="237.2" cy="217.6" r="2.5"/><circle cx="242.2" cy="161.4" r="2.5"/><circle cx="247.2" cy="219.2" r="2.5"/><circle cx="252.2" cy="177.3" r="2.5"/><circle cx="257.2" cy="202.4" r="2.5"/><circle cx="262.2" cy="187.6" r="2.5"/><circle cx="267.2" cy="238.4" r="2.5"/><circle cx="272.2" cy="217.2" r="2.5"/><circle cx="277.2" cy="246.8" r="2.5"/><circle cx="282.2" cy="190.4" r="2.5"/><circle cx="287.2" cy="238.4" r="2.5"/><circle cx="292.1" cy="207.4" r="2.5"/><circle cx="297.1" cy="225.2" r="2.5"/><circle cx="302.1" cy="171.4" r="2.5"/><circle cx="307.1" cy="239.4" r="2.5"/><circle cx="312.1" cy="209.2" r="2.5"/><circle cx="317.1" cy="256.6" r="2.5"/><circle cx="322.1" cy="200.8" r="2.5"/><circle cx="327.1" cy="184.2" r="2.5"/><circle cx="332.1" cy="182.9" r="2.5"/><circle cx="337.1" cy="209.2" r="2.5"/><circle cx="342.0" cy="167.3" r="2.5"/><circle cx="347.0" cy="180.9" r="2.5"/><circle cx="352.0" cy="197.8" r="2.5"/><circle cx="357.0" cy="151.0" r="2.5"/><circle cx="362.0" cy="210.4" r="2.5"/><circle cx="367.0" cy="241.7" r="2.5"/><circle cx="372.0" cy="146.2" r="2.5"/><circle cx="377.0" cy="194.2" r="2.5"/><circle cx="382.0" cy="147.7" r="2.5"/><circle cx="387.0" cy="194.2" r="2.5"/><circle cx="391.9" cy="133.3" r="2.5"/><circle cx="396.9" cy="144.7" r="2.5"/><circle cx="401.9" cy="128.1" r="2.5"/><circle cx="406.9" cy="182.2" r="2.5"/><circle cx="411.9" cy="159.2" r="2.5"/><circle cx="416.9" cy="152.4" r="2.5"/><circle cx="421.9" cy="145.3" r="2.5"/><circle cx="426.9" cy="195.1" r="2.5"/><circle cx="431.9" cy="209.2" r="2.5"/><circle cx="436.9" cy="223.3" r="2.5"/><circle cx="441.8" cy="237.1" r="2.5"/><circle cx="446.8" cy="213.2" r="2.5"/><circle cx="451.8" cy="204.2" r="2.5"/><circle cx="456.8" cy="259.2" r="2.5"/><circle cx="461.8" cy="160.2" r="2.5"/><circle cx="466.8" cy="168.0" r="2.5"/><circle cx="471.8" cy="121.0" r="2.5"/><circle cx="476.8" cy="142.6" r="2.5"/><circle cx="481.8" cy="97.7" r="2.5"/><circle cx="486.8" cy="198.8" r="2.5"/><circle cx="491.7" cy="230.2" r="2.5"/><circle cx="496.7" cy="213.2" r="2.5"/><circle cx="501.7" cy="173.2" r="2.5"/><circle cx="506.7" cy="234.2" r="2.5"/><circle cx="511.7" cy="227.2" r="2.5"/><circle cx="516.7" cy="218.6" r="2.5"/><circle cx="521.7" cy="193.9" r="2.5"/><circle cx="526.7" cy="234.2" r="2.5"/><circle cx="531.7" cy="225.4" r="2.5"/><circle cx="536.6" cy="239.2" r="2.5"/><circle cx="541.6" cy="195.4" r="2.5"/><circle cx="546.6" cy="232.2" r="2.5"/><circle cx="551.6" cy="269.5" r="2.5"/><circle cx="556.6" cy="194.3" r="2.5"/><circle cx="561.6" cy="166.0" r="2.5"/><circle cx="566.6" cy="240.1" r="2.5"/><circle cx="571.6" cy="202.7" r="2.5"/><circle cx="576.6" cy="207.7" r="2.5"/><circle cx="581.6" cy="177.3" r="2.5"/><circle cx="586.6" cy="199.6" r="2.5"/><circle cx="591.5" cy="214.6" r="2.5"/><circle cx="596.5" cy="214.6" r="2.5"/><circle cx="601.5" cy="213.4" r="2.5"/><circle cx="606.5" cy="203.4" r="2.5"/><circle cx="611.5" cy="174.3" r="2.5"/><circle cx="616.5" cy="217.2" r="2.5"/><circle cx="621.5" cy="128.4" r="2.5"/><circle cx="626.5" cy="177.3" r="2.5"/><circle cx="631.5" cy="246.5" r="2.5"/><circle cx="636.5" cy="193.7" r="2.5"/><circle cx="641.4" cy="108.6" r="2.5"/><circle cx="646.4" cy="165.1" r="2.5"/><circle cx="651.4" cy="161.7" r="2.5"/><circle cx="656.5" cy="399.5" r="2.5"/></g>
<path d="M53.8,230.2l4.6,-4.6l4.6,4.6l-4.6,4.6zM58.0,190.7l4.6,-4.6l4.6,4.6l-4.6,4.6zM63.0,238.2l4.6,-4.6l4.6,4.6l-4.6,4.6zM69.3,274.4l3.3,-3.3l3.3,3.3l-3.3,3.3zM73.0,207.5l4.6,-4.6l4.6,4.6l-4.6,4.6zM78.0,202.3l4.6,-4.6l4.6,4.6l-4.6,4.6zM83.0,232.8l4.6,-4.6l4.6,4.6l-4.6,4.6zM87.9,236.1l4.6,-4.6l4.6,4.6l-4.6,4.6zM92.9,231.8l4.6,-4.6l4.6,4.6l-4.6,4.6zM97.9,152.7l4.6,-4.6l4.6,4.6l-4.6,4.6zM102.9,211.2l4.6,-4.6l4.6,4.6l-4.6,4.6zM107.9,219.5l4.6,-4.6l4.6,4.6l-4.6,4.6zM112.9,218.9l4.6,-4.6l4.6,4.6l-4.6,4.6zM117.9,171.0l4.6,-4.6l4.6,4.6l-4.6,4.6zM122.9,236.1l4.6,-4.6l4.6,4.6l-4.6,4.6zM127.9,225.7l4.6,-4.6l4.6,4.6l-4.6,4.6zM132.9,286.6l4.6,-4.6l4.6,4.6l-4.6,4.6zM137.8,214.9l4.6,-4.6l4.6,4.6l-4.6,4.6zM142.8,244.5l4.6,-4.6l4.6,4.6l-4.6,4.6zM147.8,205.2l4.6,-4.6l4.6,4.6l-4.6,4.6zM152.8,228.7l4.6,-4.6l4.6,4.6l-4.6,4.6zM157.8,214.5l4.6,-4.6l4.6,4.6l-4.6,4.6zM162.8,219.0l4.6,-4.6l4.6,4.6l-4.6,4.6zM169.1,192.9l3.3,-3.3l3.3,3.3l-3.3,3.3zM172.8,206.8l4.6,-4.6l4.6,4.6l-4.6,4.6zM177.8,145.6l4.6,-4.6l4.6,4.6l-4.6,4.6zM182.8,220.6l4.6,-4.6l4.6,4.6l-4.6,4.6zM187.7,229.5l4.6,-4.6l4.6,4.6l-4.6,4.6zM192.7,201.3l4.6,-4.6l4.6,4.6l-4.6,4.6zM197.7,150.9l4.6,-4.6l4.6,4.6l-4.6,4.6zM202.7,213.3l4.6,-4.6l4.6,4.6l-4.6,4.6zM207.7,205.7l4.6,-4.6l4.6,4.6l-4.6,4.6zM212.7,164.3l4.6,-4.6l4.6,4.6l-4.6,4.6zM217.7,155.3l4.6,-4.6l4.6,4.6l-4.6,4.6zM222.7,202.4l4.6,-4.6l4.6,4.6l-4.6,4.6zM227.7,196.1l4.6,-4.6l4.6,4.6l-4.6,4.6zM232.7,217.8l4.6,-4.6l4.6,4.6l-4.6,4.6zM237.6,161.7l4.6,-4.6l4.6,4.6l-4.6,4.6zM242.6,219.5l4.6,-4.6l4.6,4.6l-4.6,4.6zM247.6,177.6l4.6,-4.6l4.6,4.6l-4.6,4.6zM252.6,202.7l4.6,-4.6l4.6,4.6l-4.6,4.6zM257.6,187.8l4.6,-4.6l4.6,4.6l-4.6,4.6zM262.6,238.7l4.6,-4.6l4.6,4.6l-4.6,4.6zM267.6,217.5l4.6,-4.6l4.6,4.6l-4.6,4.6zM272.6,247.0l4.6,-4.6l4.6,4.6l-4.6,4.6zM277.6,190.7l4.6,-4.6l4.6,4.6l-4.6,4.6zM282.6,238.7l4.6,-4.6l4.6,4.6l-4.6,4.6zM287.5,207.7l4.6,-4.6l4.6,4.6l-4.6,4.6zM292.5,225.5l4.6,-4.6l4.6,4.6l-4.6,4.6zM297.5,171.7l4.6,-4.6l4.6,4.6l-4.6,4.6zM302.5,239.7l4.6,-4.6l4.6,4.6l-4.6,4.6zM307.5,209.5l4.6,-4.6l4.6,4.6l-4.6,4.6zM312.5,256.9l4.6,-4.6l4.6,4.6l-4.6,4.6zM317.5,201.0l4.6,-4.6l4.6,4.6l-4.6,4.6zM322.5,184.5l4.6,-4.6l4.6,4.6l-4.6,4.6zM327.5,183.2l4.6,-4.6l4.6,4.6l-4.6,4.6zM332.4,209.5l4.6,-4.6l4.6,4.6l-4.6,4.6zM337.4,167.3l4.6,-4.6l4.6,4.6l-4.6,4.6zM342.4,181.2l4.6,-4.6l4.6,4.6l-4.6,4.6zM348.7,200.9l3.3,-3.3l3.3,3.3l-3.3,3.3zM353.7,157.3l3.3,-3.3l3.3,3.3l-3.3,3.3zM358.7,214.7l3.3,-3.3l3.3,3.3l-3.3,3.3zM363.7,245.3l3.3,-3.3l3.3,3.3l-3.3,3.3zM368.7,150.3l3.3,-3.3l3.3,3.3l-3.3,3.3zM373.7,197.8l3.3,-3.3l3.3,3.3l-3.3,3.3zM377.4,147.7l4.6,-4.6l4.6,4.6l-4.6,4.6zM382.4,194.5l4.6,-4.6l4.6,4.6l-4.6,4.6zM388.6,136.6l3.3,-3.3l3.3,3.3l-3.3,3.3zM393.6,148.1l3.3,-3.3l3.3,3.3l-3.3,3.3zM397.3,128.3l4.6,-4.6l4.6,4.6l-4.6,4.6zM402.3,182.5l4.6,-4.6l4.6,4.6l-4.6,4.6zM407.3,159.5l4.6,-4.6l4.6,4.6l-4.6,4.6zM412.3,152.7l4.6,-4.6l4.6,4.6l-4.6,4.6zM417.3,145.6l4.6,-4.6l4.6,4.6l-4.6,4.6zM422.3,195.3l4.6,-4.6l4.6,4.6l-4.6,4.6zM427.3,209.5l4.6,-4.6l4.6,4.6l-4.6,4.6zM432.2,223.6l4.6,-4.6l4.6,4.6l-4.6,4.6zM437.2,237.3l4.6,-4.6l4.6,4.6l-4.6,4.6zM442.2,213.5l4.6,-4.6l4.6,4.6l-4.6,4.6zM447.2,204.5l4.6,-4.6l4.6,4.6l-4.6,4.6zM452.2,259.5l4.6,-4.6l4.6,4.6l-4.6,4.6zM457.2,160.5l4.6,-4.6l4.6,4.6l-4.6,4.6zM462.2,168.0l4.6,-4.6l4.6,4.6l-4.6,4.6zM467.2,121.2l4.6,-4.6l4.6,4.6l-4.6,4.6zM472.2,142.8l4.6,-4.6l4.6,4.6l-4.6,4.6zM477.8,99.5l4.0,-4.0l4.0,4.0l-4.0,4.0zM482.2,199.0l4.6,-4.6l4.6,4.6l-4.6,4.6zM487.1,230.4l4.6,-4.6l4.6,4.6l-4.6,4.6zM492.1,213.5l4.6,-4.6l4.6,4.6l-4.6,4.6zM497.1,173.4l4.6,-4.6l4.6,4.6l-4.6,4.6zM502.1,234.5l4.6,-4.6l4.6,4.6l-4.6,4.6zM507.1,227.4l4.6,-4.6l4.6,4.6l-4.6,4.6zM512.1,218.8l4.6,-4.6l4.6,4.6l-4.6,4.6zM517.7,195.7l4.0,-4.0l4.0,4.0l-4.0,4.0zM522.7,235.5l4.0,-4.0l4.0,4.0l-4.0,4.0zM527.1,225.7l4.6,-4.6l4.6,4.6l-4.6,4.6zM532.0,239.5l4.6,-4.6l4.6,4.6l-4.6,4.6zM537.0,196.5l4.6,-4.6l4.6,4.6l-4.6,4.6zM542.0,232.4l4.6,-4.6l4.6,4.6l-4.6,4.6zM547.6,271.5l4.0,-4.0l4.0,4.0l-4.0,4.0zM552.0,195.4l4.6,-4.6l4.6,4.6l-4.6,4.6zM557.6,168.4l4.0,-4.0l4.0,4.0l-4.0,4.0zM562.0,240.3l4.6,-4.6l4.6,4.6l-4.6,4.6zM567.0,202.9l4.6,-4.6l4.6,4.6l-4.6,4.6zM572.0,207.9l4.6,-4.6l4.6,4.6l-4.6,4.6zM577.0,177.6l4.6,-4.6l4.6,4.6l-4.6,4.6zM582.0,199.8l4.6,-4.6l4.6,4.6l-4.6,4.6zM586.9,214.8l4.6,-4.6l4.6,4.6l-4.6,4.6zM591.9,214.8l4.6,-4.6l4.6,4.6l-4.6,4.6zM596.9,213.7l4.6,-4.6l4.6,4.6l-4.6,4.6zM601.9,203.7l4.6,-4.6l4.6,4.6l-4.6,4.6zM606.9,174.6l4.6,-4.6l4.6,4.6l-4.6,4.6zM611.9,217.5l4.6,-4.6l4.6,4.6l-4.6,4.6zM616.9,128.7l4.6,-4.6l4.6,4.6l-4.6,4.6zM621.9,177.6l4.6,-4.6l4.6,4.6l-4.6,4.6zM626.9,246.5l4.6,-4.6l4.6,4.6l-4.6,4.6zM633.2,196.6l3.3,-3.3l3.3,3.3l-3.3,3.3zM638.1,111.4l3.3,-3.3l3.3,3.3l-3.3,3.3zM641.8,165.3l4.6,-4.6l4.6,4.6l-4.6,4.6zM646.8,161.9l4.6,-4.6l4.6,4.6l-4.6,4.6zM651.9,399.5l4.6,-4.6l4.6,4.6l-4.6,4.6z" fill="#d7095a"/>
<path d="M53.4,230.2h10.0M58.4,225.2v10.0M55.6,227.4l5.6,5.6M55.6,233.0l5.6,-5.6M57.6,190.7h10.0M62.6,185.7v10.0M59.8,187.9l5.6,5.6M59.8,193.5l5.6,-5.6M62.6,238.2h10.0M67.6,233.2v10.0M64.8,235.4l5.6,5.6M64.8,241.0l5.6,-5.6M67.6,274.4h10.0M72.6,269.4v10.0M69.8,271.6l5.6,5.6M69.8,277.2l5.6,-5.6M72.6,207.5h10.0M77.6,202.5v10.0M74.8,204.7l5.6,5.6M74.8,210.3l5.6,-5.6M77.6,202.3h10.0M82.6,197.3v10.0M79.8,199.5l5.6,5.6M79.8,205.1l5.6,-5.6M82.6,232.8h10.0M87.6,227.8v10.0M84.8,230.0l5.6,5.6M84.8,235.6l5.6,-5.6M87.5,236.1h10.0M92.5,231.1v10.0M89.7,233.3l5.6,5.6M89.7,238.9l5.6,-5.6M92.5,231.8h10.0M97.5,226.8v10.0M94.7,229.0l5.6,5.6M94.7,234.6l5.6,-5.6M97.5,152.7h10.0M102.5,147.7v10.0M99.7,149.9l5.6,5.6M99.7,155.5l5.6,-5.6M102.5,211.2h10.0M107.5,206.2v10.0M104.7,208.4l5.6,5.6M104.7,214.0l5.6,-5.6M107.5,219.5h10.0M112.5,214.5v10.0M109.7,216.7l5.6,5.6M109.7,222.3l5.6,-5.6M112.5,218.9h10.0M117.5,213.9v10.0M114.7,216.1l5.6,5.6M114.7,221.7l5.6,-5.6M117.5,171.0h10.0M122.5,166.0v10.0M119.7,168.2l5.6,5.6M119.7,173.8l5.6,-5.6M122.5,236.1h10.0M127.5,231.1v10.0M124.7,233.3l5.6,5.6M124.7,238.9l5.6,-5.6M127.5,225.7h10.0M132.5,220.7v10.0M129.7,222.9l5.6,5.6M129.7,228.5l5.6,-5.6M132.5,286.6h10.0M137.5,281.6v10.0M134.7,283.8l5.6,5.6M134.7,289.4l5.6,-5.6M137.4,214.9h10.0M142.4,209.9v10.0M139.6,212.1l5.6,5.6M139.6,217.7l5.6,-5.6M142.4,244.5h10.0M147.4,239.5v10.0M144.6,241.7l5.6,5.6M144.6,247.3l5.6,-5.6M147.4,205.2h10.0M152.4,200.2v10.0M149.6,202.4l5.6,5.6M149.6,208.0l5.6,-5.6M152.4,228.7h10.0M157.4,223.7v10.0M154.6,225.9l5.6,5.6M154.6,231.5l5.6,-5.6M157.4,214.5h10.0M162.4,209.5v10.0M159.6,211.7l5.6,5.6M159.6,217.3l5.6,-5.6M162.4,219.0h10.0M167.4,214.0v10.0M164.6,216.2l5.6,5.6M164.6,221.8l5.6,-5.6M167.4,192.9h10.0M172.4,187.9v10.0M169.6,190.1l5.6,5.6M169.6,195.7l5.6,-5.6M172.4,206.8h10.0M177.4,201.8v10.0M174.6,204.0l5.6,5.6M174.6,209.6l5.6,-5.6M177.4,145.6h10.0M182.4,140.6v10.0M179.6,142.8l5.6,5.6M179.6,148.4l5.6,-5.6M182.3,220.6h10.0M187.3,215.6v10.0M184.5,217.8l5.6,5.6M184.5,223.4l5.6,-5.6M187.3,229.5h10.0M192.3,224.5v10.0M189.5,226.7l5.6,5.6M189.5,232.3l5.6,-5.6M192.3,201.3h10.0M197.3,196.3v10.0M194.5,198.5l5.6,5.6M194.5,204.1l5.6,-5.6M197.3,150.9h10.0M202.3,145.9v10.0M199.5,148.1l5.6,5.6M199.5,153.7l5.6,-5.6M202.3,213.3h10.0M207.3,208.3v10.0M204.5,210.5l5.6,5.6M204.5,216.1l5.6,-5.6M207.3,205.7h10.0M212.3,200.7v10.0M209.5,202.9l5.6,5.6M209.5,208.5l5.6,-5.6M212.3,164.3h10.0M217.3,159.3v10.0M214.5,161.5l5.6,5.6M214.5,167.1l5.6,-5.6M217.3,155.3h10.0M222.3,150.3v10.0M219.5,152.5l5.6,5.6M219.5,158.1l5.6,-5.6M222.3,202.4h10.0M227.3,197.4v10.0M224.5,199.6l5.6,5.6M224.5,205.2l5.6,-5.6M227.3,196.1h10.0M232.3,191.1v10.0M229.5,193.3l5.6,5.6M229.5,198.9l5.6,-5.6M232.2,217.8h10.0M237.2,212.8v10.0M234.4,215.0l5.6,5.6M234.4,220.6l5.6,-5.6M237.2,161.7h10.0M242.2,156.7v10.0M239.4,158.9l5.6,5.6M239.4,164.5l5.6,-5.6M242.2,219.5h10.0M247.2,214.5v10.0M244.4,216.7l5.6,5.6M244.4,222.3l5.6,-5.6M247.2,177.6h10.0M252.2,172.6v10.0M249.4,174.8l5.6,5.6M249.4,180.4l5.6,-5.6M252.2,202.7h10.0M257.2,197.7v10.0M254.4,199.9l5.6,5.6M254.4,205.5l5.6,-5.6M257.2,187.8h10.0M262.2,182.8v10.0M259.4,185.0l5.6,5.6M259.4,190.6l5.6,-5.6M262.2,238.7h10.0M267.2,233.7v10.0M264.4,235.9l5.6,5.6M264.4,241.5l5.6,-5.6M267.2,217.5h10.0M272.2,212.5v10.0M269.4,214.7l5.6,5.6M269.4,220.3l5.6,-5.6M272.2,247.0h10.0M277.2,242.0v10.0M274.4,244.2l5.6,5.6M274.4,249.8l5.6,-5.6M277.2,190.7h10.0M282.2,185.7v10.0M279.4,187.9l5.6,5.6M279.4,193.5l5.6,-5.6M282.2,238.7h10.0M287.2,233.7v10.0M284.4,235.9l5.6,5.6M284.4,241.5l5.6,-5.6M287.1,207.7h10.0M292.1,202.7v10.0M289.3,204.9l5.6,5.6M289.3,210.5l5.6,-5.6M292.1,225.5h10.0M297.1,220.5v10.0M294.3,222.7l5.6,5.6M294.3,228.3l5.6,-5.6M297.1,171.7h10.0M302.1,166.7v10.0M299.3,168.9l5.6,5.6M299.3,174.5l5.6,-5.6M302.1,239.7h10.0M307.1,234.7v10.0M304.3,236.9l5.6,5.6M304.3,242.5l5.6,-5.6M307.1,209.5h10.0M312.1,204.5v10.0M309.3,206.7l5.6,5.6M309.3,212.3l5.6,-5.6M312.1,256.9h10.0M317.1,251.9v10.0M314.3,254.1l5.6,5.6M314.3,259.7l5.6,-5.6M317.1,201.0h10.0M322.1,196.0v10.0M319.3,198.2l5.6,5.6M319.3,203.8l5.6,-5.6M322.1,184.5h10.0M327.1,179.5v10.0M324.3,181.7l5.6,5.6M324.3,187.3l5.6,-5.6M327.1,183.2h10.0M332.1,178.2v10.0M329.3,180.4l5.6,5.6M329.3,186.0l5.6,-5.6M332.1,209.5h10.0M337.1,204.5v10.0M334.2,206.7l5.6,5.6M334.2,212.3l5.6,-5.6M337.0,167.3h10.0M342.0,162.3v10.0M339.2,164.5l5.6,5.6M339.2,170.1l5.6,-5.6M342.0,181.2h10.0M347.0,176.2v10.0M344.2,178.4l5.6,5.6M344.2,184.0l5.6,-5.6M347.0,200.9h10.0M352.0,195.9v10.0M349.2,198.1l5.6,5.6M349.2,203.7l5.6,-5.6M352.0,157.3h10.0M357.0,152.3v10.0M354.2,154.5l5.6,5.6M354.2,160.1l5.6,-5.6M357.0,214.7h10.0M362.0,209.7v10.0M359.2,211.9l5.6,5.6M359.2,217.5l5.6,-5.6M362.0,245.3h10.0M367.0,240.3v10.0M364.2,242.5l5.6,5.6M364.2,248.1l5.6,-5.6M367.0,150.3h10.0M372.0,145.3v10.0M369.2,147.5l5.6,5.6M369.2,153.1l5.6,-5.6M372.0,197.8h10.0M377.0,192.8v10.0M374.2,195.0l5.6,5.6M374.2,200.6l5.6,-5.6M377.0,147.7h10.0M382.0,142.7v10.0M379.2,144.9l5.6,5.6M379.2,150.5l5.6,-5.6M382.0,194.5h10.0M387.0,189.5v10.0M384.2,191.7l5.6,5.6M384.2,197.3l5.6,-5.6M386.9,136.6h10.0M391.9,131.6v10.0M389.1,133.8l5.6,5.6M389.1,139.4l5.6,-5.6M391.9,148.1h10.0M396.9,143.1v10.0M394.1,145.3l5.6,5.6M394.1,150.9l5.6,-5.6M396.9,128.3h10.0M401.9,123.3v10.0M399.1,125.5l5.6,5.6M399.1,131.1l5.6,-5.6M401.9,182.5h10.0M406.9,177.5v10.0M404.1,179.7l5.6,5.6M404.1,185.3l5.6,-5.6M406.9,159.5h10.0M411.9,154.5v10.0M409.1,156.7l5.6,5.6M409.1,162.3l5.6,-5.6M411.9,152.7h10.0M416.9,147.7v10.0M414.1,149.9l5.6,5.6M414.1,155.5l5.6,-5.6M416.9,145.6h10.0M421.9,140.6v10.0M419.1,142.8l5.6,5.6M419.1,148.4l5.6,-5.6M421.9,195.3h10.0M426.9,190.3v10.0M424.1,192.5l5.6,5.6M424.1,198.1l5.6,-5.6M426.9,209.5h10.0M431.9,204.5v10.0M429.1,206.7l5.6,5.6M429.1,212.3l5.6,-5.6M431.9,223.6h10.0M436.9,218.6v10.0M434.1,220.8l5.6,5.6M434.1,226.4l5.6,-5.6M436.8,237.3h10.0M441.8,232.3v10.0M439.0,234.5l5.6,5.6M439.0,240.1l5.6,-5.6M441.8,213.5h10.0M446.8,208.5v10.0M444.0,210.7l5.6,5.6M444.0,216.3l5.6,-5.6M446.8,204.5h10.0M451.8,199.5v10.0M449.0,201.7l5.6,5.6M449.0,207.3l5.6,-5.6M451.8,259.5h10.0M456.8,254.5v10.0M454.0,256.7l5.6,5.6M454.0,262.3l5.6,-5.6M456.8,160.5h10.0M461.8,155.5v10.0M459.0,157.7l5.6,5.6M459.0,163.3l5.6,-5.6M461.8,168.0h10.0M466.8,163.0v10.0M464.0,165.2l5.6,5.6M464.0,170.8l5.6,-5.6M466.8,121.2h10.0M471.8,116.2v10.0M469.0,118.4l5.6,5.6M469.0,124.0l5.6,-5.6M471.8,142.8h10.0M476.8,137.8v10.0M474.0,140.0l5.6,5.6M474.0,145.6l5.6,-5.6M476.8,99.5h10.0M481.8,94.5v10.0M479.0,96.7l5.6,5.6M479.0,102.3l5.6,-5.6M481.8,199.0h10.0M486.8,194.0v10.0M484.0,196.2l5.6,5.6M484.0,201.8l5.6,-5.6M486.7,230.4h10.0M491.7,225.4v10.0M488.9,227.6l5.6,5.6M488.9,233.2l5.6,-5.6M491.7,213.5h10.0M496.7,208.5v10.0M493.9,210.7l5.6,5.6M493.9,216.3l5.6,-5.6M496.7,173.4h10.0M501.7,168.4v10.0M498.9,170.6l5.6,5.6M498.9,176.2l5.6,-5.6M501.7,234.5h10.0M506.7,229.5v10.0M503.9,231.7l5.6,5.6M503.9,237.3l5.6,-5.6M506.7,227.4h10.0M511.7,222.4v10.0M508.9,224.6l5.6,5.6M508.9,230.2l5.6,-5.6M511.7,218.8h10.0M516.7,213.8v10.0M513.9,216.0l5.6,5.6M513.9,221.6l5.6,-5.6M516.7,195.7h10.0M521.7,190.7v10.0M518.9,192.9l5.6,5.6M518.9,198.5l5.6,-5.6M521.7,235.5h10.0M526.7,230.5v10.0M523.9,232.7l5.6,5.6M523.9,238.3l5.6,-5.6M526.7,225.7h10.0M531.7,220.7v10.0M528.9,222.9l5.6,5.6M528.9,228.5l5.6,-5.6M531.6,239.5h10.0M536.6,234.5v10.0M533.9,236.7l5.6,5.6M533.9,242.3l5.6,-5.6M536.6,196.5h10.0M541.6,191.5v10.0M538.8,193.7l5.6,5.6M538.8,199.3l5.6,-5.6M541.6,232.4h10.0M546.6,227.4v10.0M543.8,229.6l5.6,5.6M543.8,235.2l5.6,-5.6M546.6,271.5h10.0M551.6,266.5v10.0M548.8,268.7l5.6,5.6M548.8,274.3l5.6,-5.6M551.6,195.4h10.0M556.6,190.4v10.0M553.8,192.6l5.6,5.6M553.8,198.2l5.6,-5.6M556.6,168.4h10.0M561.6,163.4v10.0M558.8,165.6l5.6,5.6M558.8,171.2l5.6,-5.6M561.6,240.3h10.0M566.6,235.3v10.0M563.8,237.5l5.6,5.6M563.8,243.1l5.6,-5.6M566.6,202.9h10.0M571.6,197.9v10.0M568.8,200.1l5.6,5.6M568.8,205.7l5.6,-5.6M571.6,207.9h10.0M576.6,202.9v10.0M573.8,205.1l5.6,5.6M573.8,210.7l5.6,-5.6M576.6,177.6h10.0M581.6,172.6v10.0M578.8,174.8l5.6,5.6M578.8,180.4l5.6,-5.6M581.6,199.8h10.0M586.6,194.8v10.0M583.8,197.0l5.6,5.6M583.8,202.6l5.6,-5.6M586.5,214.8h10.0M591.5,209.8v10.0M588.7,212.0l5.6,5.6M588.7,217.6l5.6,-5.6M591.5,214.8h10.0M596.5,209.8v10.0M593.7,212.0l5.6,5.6M593.7,217.6l5.6,-5.6M596.5,213.7h10.0M601.5,208.7v10.0M598.7,210.9l5.6,5.6M598.7,216.5l5.6,-5.6M601.5,203.7h10.0M606.5,198.7v10.0M603.7,200.9l5.6,5.6M603.7,206.5l5.6,-5.6M606.5,174.6h10.0M611.5,169.6v10.0M608.7,171.8l5.6,5.6M608.7,177.4l5.6,-5.6M611.5,217.5h10.0M616.5,212.5v10.0M613.7,214.7l5.6,5.6M613.7,220.3l5.6,-5.6M616.5,128.7h10.0M621.5,123.7v10.0M618.7,125.9l5.6,5.6M618.7,131.5l5.6,-5.6M621.5,177.6h10.0M626.5,172.6v10.0M623.7,174.8l5.6,5.6M623.7,180.4l5.6,-5.6M626.5,246.5h10.0M631.5,241.5v10.0M628.7,243.7l5.6,5.6M628.7,249.3l5.6,-5.6M631.5,196.6h10.0M636.5,191.6v10.0M633.7,193.8l5.6,5.6M633.7,199.4l5.6,-5.6M636.4,111.4h10.0M641.4,106.4v10.0M638.6,108.6l5.6,5.6M638.6,114.2l5.6,-5.6M641.4,165.3h10.0M646.4,160.3v10.0M643.6,162.5l5.6,5.6M643.6,168.1l5.6,-5.6M646.4,161.9h10.0M651.4,156.9v10.0M648.6,159.1l5.6,5.6M648.6,164.7l5.6,-5.6M651.5,399.5h10.0M656.5,394.5v10.0M653.7,396.7l5.6,5.6M653.7,402.3l5.6,-5.6" stroke="#d7095a" stroke-width="1.9" fill="none"/>
<text x="168.7" y="41.8" text-anchor="start" font-size="16" fill="#000" font-weight="bold" textLength="375.4" lengthAdjust="spacingAndGlyphs" stroke="#000" stroke-width="0.3">Southern Hemisphere 290043 / 291079 = 99.644%</text>
<text x="217.7" y="61.6" text-anchor="start" font-size="16" fill="#000" font-weight="bold" textLength="278.6" lengthAdjust="spacingAndGlyphs" stroke="#000" stroke-width="0.3">SAT_HORIZONTAL_WIND @ 313 hPa</text>
<text x="53" y="405.20" text-anchor="end" font-size="16" fill="#262626" font-weight="normal"  stroke="#262626" stroke-width="0.2">0</text>
<text x="53" y="339.40" text-anchor="end" font-size="16" fill="#262626" font-weight="normal"  stroke="#262626" stroke-width="0.2">2</text>
<text x="53" y="273.60" text-anchor="end" font-size="16" fill="#262626" font-weight="normal"  stroke="#262626" stroke-width="0.2">4</text>
<text x="53" y="207.80" text-anchor="end" font-size="16" fill="#262626" font-weight="normal"  stroke="#262626" stroke-width="0.2">6</text>
<text x="53" y="142.00" text-anchor="end" font-size="16" fill="#262626" font-weight="normal"  stroke="#262626" stroke-width="0.2">8</text>
<text x="53" y="76.20" text-anchor="end" font-size="16" fill="#262626" font-weight="normal"  stroke="#262626" stroke-width="0.2">10</text>
<text x="678.9" y="405.20" text-anchor="middle" font-size="16" fill="#d7095a" font-weight="normal" textLength="9.05" lengthAdjust="spacingAndGlyphs" stroke="#d7095a" stroke-width="0.2">0</text>
<text x="678.9" y="339.40" text-anchor="middle" font-size="16" fill="#d7095a" font-weight="normal" textLength="27.15" lengthAdjust="spacingAndGlyphs" stroke="#d7095a" stroke-width="0.2">800</text>
<text x="678.9" y="273.60" text-anchor="middle" font-size="16" fill="#d7095a" font-weight="normal" textLength="36.21" lengthAdjust="spacingAndGlyphs" stroke="#d7095a" stroke-width="0.2">1600</text>
<text x="678.9" y="207.80" text-anchor="middle" font-size="16" fill="#d7095a" font-weight="normal" textLength="36.21" lengthAdjust="spacingAndGlyphs" stroke="#d7095a" stroke-width="0.2">2400</text>
<text x="678.9" y="142.00" text-anchor="middle" font-size="16" fill="#d7095a" font-weight="normal" textLength="36.21" lengthAdjust="spacingAndGlyphs" stroke="#d7095a" stroke-width="0.2">3200</text>
<text x="678.9" y="76.20" text-anchor="middle" font-size="16" fill="#d7095a" font-weight="normal" textLength="36.21" lengthAdjust="spacingAndGlyphs" stroke="#d7095a" stroke-width="0.2">4000</text>
<text x="58.00" y="419.5" text-anchor="middle" font-size="16" fill="#262626" font-weight="normal" textLength="40.1" lengthAdjust="spacingAndGlyphs" stroke="#262626" stroke-width="0.2">11/01</text>
<text x="157.67" y="419.5" text-anchor="middle" font-size="16" fill="#262626" font-weight="normal" textLength="40.1" lengthAdjust="spacingAndGlyphs" stroke="#262626" stroke-width="0.2">11/06</text>
<text x="257.33" y="419.5" text-anchor="middle" font-size="16" fill="#262626" font-weight="normal" textLength="40.1" lengthAdjust="spacingAndGlyphs" stroke="#262626" stroke-width="0.2">11/11</text>
<text x="357.00" y="419.5" text-anchor="middle" font-size="16" fill="#262626" font-weight="normal" textLength="40.1" lengthAdjust="spacingAndGlyphs" stroke="#262626" stroke-width="0.2">11/16</text>
<text x="456.67" y="419.5" text-anchor="middle" font-size="16" fill="#262626" font-weight="normal" textLength="40.1" lengthAdjust="spacingAndGlyphs" stroke="#262626" stroke-width="0.2">11/21</text>
<text x="556.33" y="419.5" text-anchor="middle" font-size="16" fill="#262626" font-weight="normal" textLength="40.1" lengthAdjust="spacingAndGlyphs" stroke="#262626" stroke-width="0.2">11/26</text>
<text x="656.00" y="419.5" text-anchor="middle" font-size="16" fill="#262626" font-weight="normal" textLength="40.1" lengthAdjust="spacingAndGlyphs" stroke="#262626" stroke-width="0.2">12/01</text>
<text x="260.1" y="441" text-anchor="start" font-size="16" fill="#262626" font-weight="normal" textLength="193.6" lengthAdjust="spacingAndGlyphs" stroke="#262626" stroke-width="0.2">Nov.01,2017 00:00:00 start</text>
<text x="145.8" y="457.5" text-anchor="start" font-size="8" fill="#000" font-weight="normal" textLength="502.8" lengthAdjust="spacingAndGlyphs" stroke="#000" stroke-width="0.12">data file: /Users/raeder/DAI/ATM_forcXX/CAM6_setup/f.e21.FHIST_BGC.f09_025.CAM6assim.011/Diags_NTrS_2017-11/obs_diag_output.nc</text>
<text transform="translate(27.8,234.8) rotate(-90)" text-anchor="middle" font-size="16" fill="#262626" stroke="#262626" stroke-width="0.2" textLength="152" lengthAdjust="spacingAndGlyphs">rmse and totalspread</text>
<g transform="translate(716,0) rotate(-90)" font-size="16" fill="#d7095a" stroke="#d7095a" stroke-width="0.2"><text x="-361.2" y="0" textLength="150.2" lengthAdjust="spacingAndGlyphs"># of obs: o=possible;</text><text x="-202.2" y="-1.2" text-anchor="middle" font-family="DejaVu Sans, sans-serif" font-size="9.5" stroke="none" fill-opacity="0.75">∗</text><text x="-197.6" y="0" textLength="91.6" lengthAdjust="spacingAndGlyphs">=assimilated</text></g>
</svg></body></html>
